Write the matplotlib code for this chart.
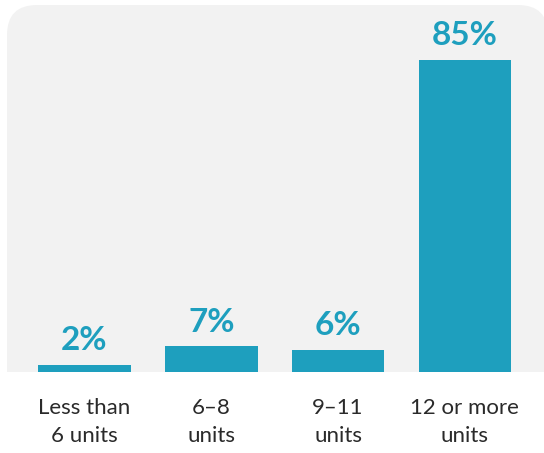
import matplotlib.pyplot as plt
from matplotlib.patches import FancyBboxPatch, Rectangle
from matplotlib.transforms import IdentityTransform

categories = ["Less than\n6 units", "6\u20138\nunits", "9\u201311\nunits", "12 or more\nunits"]
values = [2, 7, 6, 85]
labels = ["2%", "7%", "6%", "85%"]

teal = "#1e9fbe"
panel = "#f2f2f2"

W, H = 544, 453
fig = plt.figure(figsize=(W / 100, H / 100), dpi=100)
fig.patch.set_facecolor("white")

# gray panel with rounded top corners (pixel coords, origin bottom-left)
left, right, top, bottom = 7, 548, H - 5, H - 372
fig.patches.append(FancyBboxPatch((left + 30, bottom + 30), right - left - 60, top - bottom - 60,
                                  boxstyle="round,pad=30", transform=IdentityTransform(),
                                  facecolor=panel, edgecolor="none", zorder=-2))
fig.patches.append(Rectangle((left, bottom), right - left, 100, transform=IdentityTransform(),
                             facecolor=panel, edgecolor="none", zorder=-2))

ax = fig.add_axes([7 / W, 81 / H, 537 / W, 367 / H])
ax.patch.set_visible(False)
x = range(len(values))
ax.bar(x, values, width=0.73, color=teal, zorder=2)
for i, v in enumerate(values):
    ax.annotate(labels[i], (i, v), xytext=(0, 7), textcoords="offset points",
                ha="center", va="bottom", color=teal, fontsize=24,
                fontweight="bold", family="Lato")
ax.set_xlim(-0.611, 3.624)
ax.set_ylim(0, 100)
ax.set_xticks(list(x))
ax.set_xticklabels(categories, fontsize=16, family="Lato", fontweight="normal",
                   color="#2a2a2a", linespacing=1.47)
ax.tick_params(axis="x", length=0, pad=19)
ax.set_yticks([])
for s in ax.spines.values():
    s.set_visible(False)

fig.savefig("out.png", dpi=100)
